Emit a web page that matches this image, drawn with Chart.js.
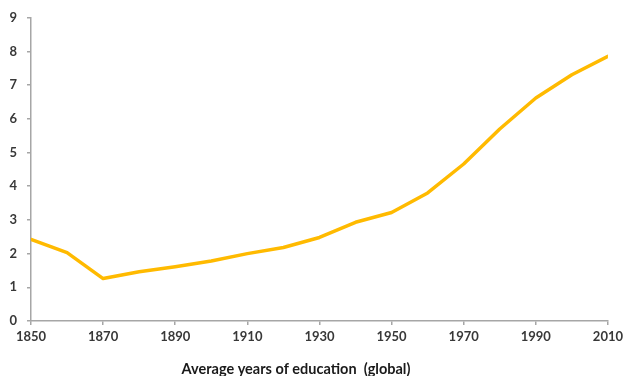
<!DOCTYPE html>
<html>
<head>
<meta charset="utf-8">
<script src="https://cdn.jsdelivr.net/npm/chart.js@4"></script>
<style>
html,body{margin:0;padding:0;background:#fff;}
#wrap{width:627px;height:376px;position:relative;}
</style>
</head>
<body>
<div id="wrap"><canvas id="c" width="627" height="376"></canvas></div>
<script>
const years = [1850,1860,1870,1880,1890,1900,1910,1920,1930,1940,1950,1960,1970,1980,1990,2000,2010];
const avgYears = [2.42,2.03,1.26,1.46,1.61,1.78,2.0,2.18,2.48,2.93,3.22,3.8,4.66,5.7,6.62,7.31,7.86];
const xTickLabels = ['1850','1870','1890','1910','1930','1950','1970','1990','2010'];
const yTickLabels = ['0','1','2','3','4','5','6','7','8','9'];
const titleText = 'Average years of education  (global)';

const points = years.map((y,i)=>({x:y,y:avgYears[i]}));
const axisColor = '#a6a6a6';
const tickFont = {family:'Lato', size:13, weight:'bold'};

const titlePlugin = {
  id:'bottomTitle',
  afterDraw(chart){
    const ctx = chart.ctx;
    ctx.save();
    ctx.font = 'bold 14.5px Lato';
    ctx.fillStyle = '#1a1a1a';
    ctx.textAlign = 'center';
    ctx.textBaseline = 'middle';
    ctx.fillText(titleText, 296, 369);
    ctx.restore();
  }
};

new Chart(document.getElementById('c'), {
  type:'line',
  data:{datasets:[{
    data:points,
    borderColor:'#FFBA00',
    borderWidth:3.5,
    pointRadius:0,
    tension:0,
    borderJoinStyle:'round',
    borderCapStyle:'round',
    fill:false
  }]},
  options:{
    responsive:false,
    animation:false,
    layout:{padding:{top:17,right:16,left:0,bottom:0}},
    plugins:{legend:{display:false},tooltip:{enabled:false}},
    scales:{
      x:{
        type:'linear',
        min:1850,max:2010,
        afterFit(s){s.height=55;},
        afterBuildTicks(s){s.ticks = xTickLabels.map(v=>({value:Number(v)}));},
        ticks:{callback:(v)=>String(v),font:tickFont,color:'#383838',padding:4,maxRotation:0,autoSkip:false},
        grid:{drawOnChartArea:false,drawTicks:true,tickLength:4,color:axisColor,lineWidth:1.5},
        border:{color:axisColor,width:1.5}
      },
      y:{
        min:0,max:9,
        afterFit(s){s.width=31;},
        afterBuildTicks(s){s.ticks = yTickLabels.map(v=>({value:Number(v)}));},
        ticks:{callback:(v)=>String(v),font:tickFont,color:'#383838',padding:10},
        grid:{drawOnChartArea:false,drawTicks:true,tickLength:4,color:axisColor,lineWidth:1.5},
        border:{color:axisColor,width:1.5}
      }
    }
  },
  plugins:[titlePlugin]
});
</script>
</body>
</html>
